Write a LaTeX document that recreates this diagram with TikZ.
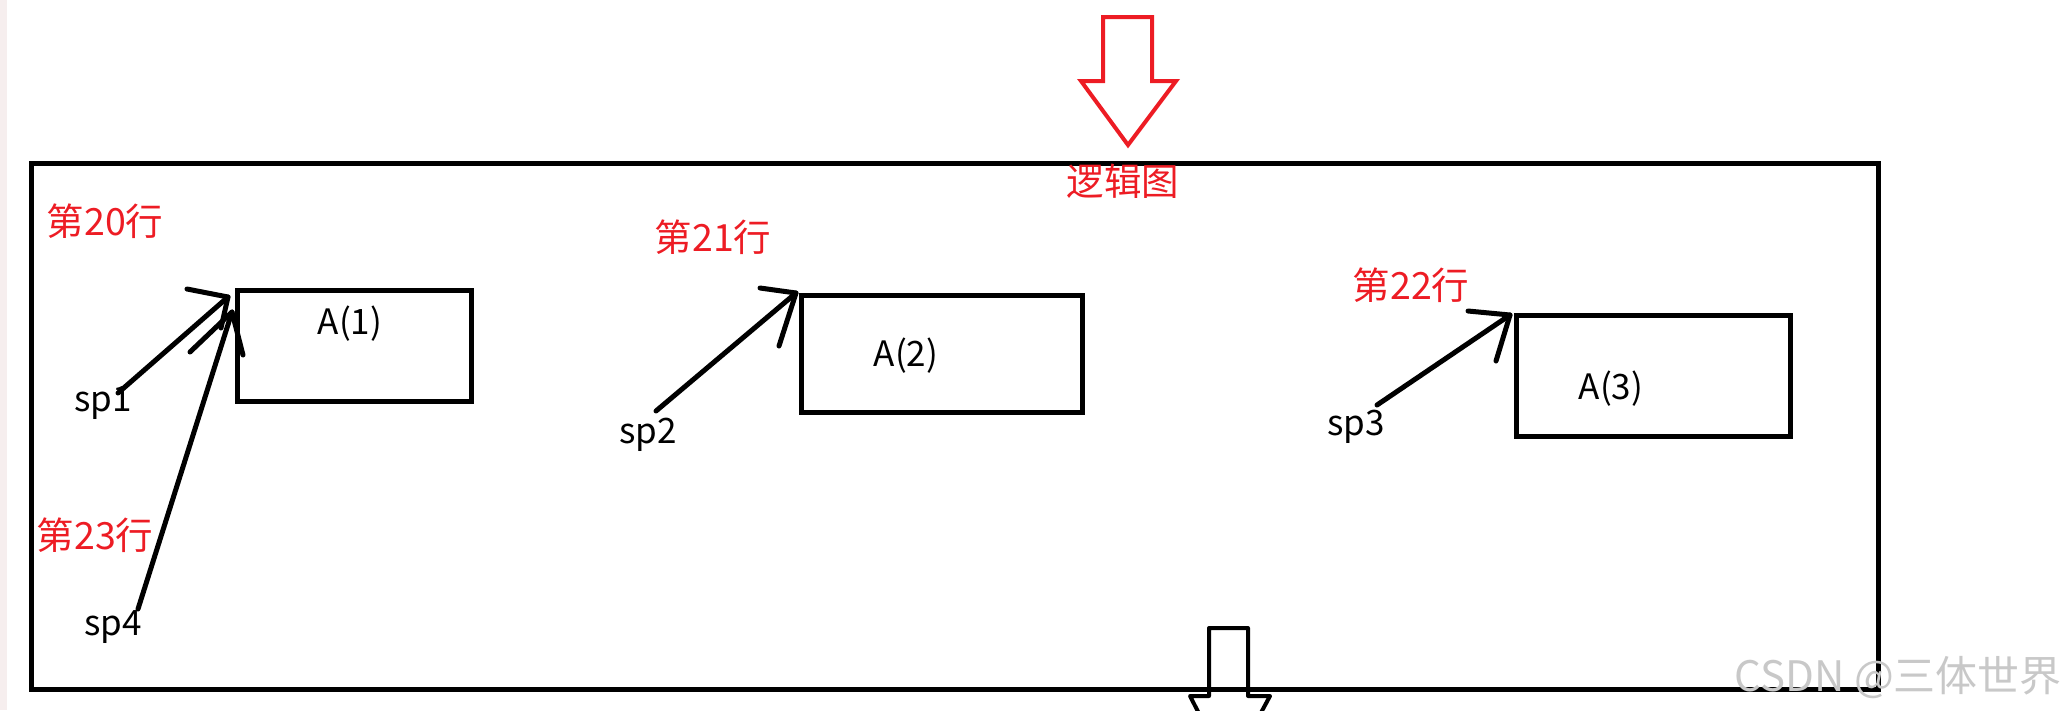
\documentclass[tikz,border=0pt]{standalone}
\usepackage{fontspec}
\setmainfont{Noto Sans CJK SC}
\definecolor{pred}{RGB}{237,28,36}
\definecolor{wm}{RGB}{200,200,200}
\definecolor{edgepink}{RGB}{246,238,238}
\begin{document}
\begin{tikzpicture}[x=1pt,y=-1pt,
  ln/.style={line width=5pt, line cap=round, line join=round},
  boxnode/.style={draw, line width=4.5pt, inner sep=0pt, anchor=north west},
  redtxt/.style={text=pred, inner sep=0pt, font=\fontsize{37.5}{44}\selectfont},
  blktxt/.style={text=black, inner sep=0pt, font=\fontsize{35}{42}\selectfont},
]
\useasboundingbox (0,0) rectangle (2066,710);
\clip (0,0) rectangle (2066,710);
\fill[edgepink] (0,0) rectangle (7,710);

% outer frame
\node[boxnode, minimum width=1847pt, minimum height=526pt] (frame) at (29,161) {};

% red hollow arrow (top)
\draw[pred, line width=4pt, line join=miter]
  (1103,17) -- (1152,17) -- (1152,81) -- (1176,81) -- (1128,145)
  -- (1081,81) -- (1103,81) -- cycle;
\node[redtxt] (title) at (1123,181) {逻辑图};

% black hollow arrow (bottom)
\draw[black, line width=4pt, line join=round]
  (1209,696) -- (1209,628) -- (1248,628) -- (1248,696) -- (1270,696) -- (1229,772)
  -- (1190,696) -- cycle;

% boxes
\node[boxnode, minimum width=234pt, minimum height=111pt] (A1) at (235,288) {};
\node[boxnode, minimum width=281pt, minimum height=117pt] (A2) at (799,293) {};
\node[boxnode, minimum width=274pt, minimum height=121pt] (A3) at (1514,313) {};
\node[blktxt] (a1t) at (350,324) {A(1)};
\node[blktxt] (a2t) at (906,356) {A(2)};
\node[blktxt] (a3t) at (1611,389) {A(3)};

% red labels
\node[redtxt] (t20) at (105,221) {第20行};
\node[redtxt] (t21) at (713,237) {第21行};
\node[redtxt] (t22) at (1411,285) {第22行};
\node[redtxt] (t23) at (95,535) {第23行};

% sp labels
\node[blktxt] (sp1) at (103,403) {sp1};
\node[blktxt] (sp2) at (648,435) {sp2};
\node[blktxt] (sp3) at (1356,427) {sp3};
\node[blktxt] (sp4) at (113,627) {sp4};

% arrow coordinates
\coordinate (s1) at (118,393); \coordinate (k1) at (228,297);
\coordinate (b1a) at (187,289); \coordinate (b1b) at (221,328);
\coordinate (s4) at (138,609); \coordinate (k4) at (232,312);
\coordinate (b4a) at (190,352); \coordinate (b4b) at (243,355);
\coordinate (s2) at (656,411); \coordinate (k2) at (796,293);
\coordinate (b2a) at (760,288); \coordinate (b2b) at (779,346);
\coordinate (s3) at (1377,405); \coordinate (k3) at (1510,315);
\coordinate (b3a) at (1468,311); \coordinate (b3b) at (1496,361);

\draw[ln] (s1) -- (k1); \draw[ln] (b1a) -- (k1) -- (b1b);
\draw[ln] (s4) -- (k4); \draw[ln] (b4a) -- (k4) -- (b4b);
\draw[ln] (s2) -- (k2); \draw[ln] (b2a) -- (k2) -- (b2b);
\draw[ln] (s3) -- (k3); \draw[ln] (b3a) -- (k3) -- (b3b);

% watermark
\node[text=wm, inner sep=0pt, font=\fontsize{42}{48}\selectfont, anchor=east] (wmk) at (2062,678) {CSDN @三体世界};
\end{tikzpicture}
\end{document}
